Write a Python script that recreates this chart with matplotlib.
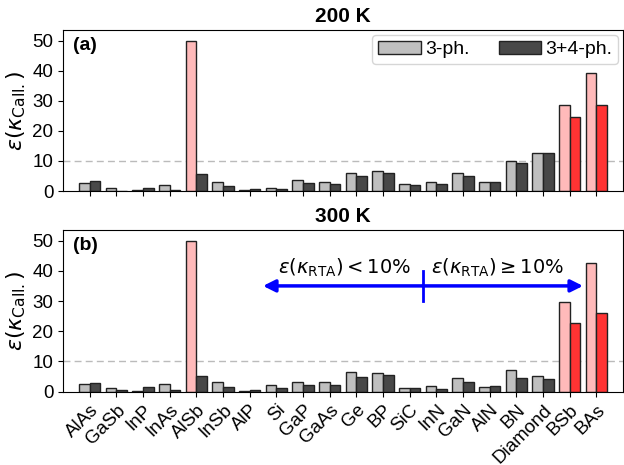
import numpy as np
import matplotlib
matplotlib.use("Agg")
import matplotlib.pyplot as plt
from matplotlib.patches import Patch

plt.rcParams['font.family'] = ['Liberation Sans', 'DejaVu Sans']
plt.rcParams['mathtext.fontset'] = 'dejavusans'

materials = ['AlAs', 'GaSb', 'InP', 'InAs', 'AlSb', 'InSb', 'AlP', 'Si', 'GaP', 'GaAs',
             'Ge', 'BP', 'SiC', 'InN', 'GaN', 'AlN', 'BN', 'Diamond', 'BSb', 'BAs']

# error of kappa_Call. (%) at 200 K
err3_200 = [2.6, 0.9, 0.3, 2.0, 49.9, 3.1, 0.2, 0.9, 3.5, 3.0,
            6.1, 6.5, 2.2, 3.0, 5.9, 3.1, 10.0, 12.8, 28.7, 39.1]
err34_200 = [3.3, 0.1, 1.0, 0.4, 5.6, 1.8, 0.8, 0.55, 2.5, 2.2,
             5.1, 6.0, 2.0, 2.3, 5.1, 3.1, 9.4, 12.6, 24.5, 28.7]

# error of kappa_Call. (%) at 300 K
err3_300 = [2.4, 1.1, 0.1, 2.5, 50.0, 3.15, 0.4, 2.2, 3.3, 3.3,
            6.6, 6.2, 1.3, 1.85, 4.7, 1.5, 7.2, 5.1, 29.6, 42.6]
err34_300 = [3.0, 0.5, 1.5, 0.5, 5.1, 1.4, 0.6, 1.3, 2.2, 2.1,
             5.0, 5.4, 1.2, 0.9, 3.3, 2.0, 4.6, 4.2, 22.6, 25.9]

# highlighted materials
pink_3ph = ['AlSb', 'BSb', 'BAs']
red_34ph = ['BSb', 'BAs']

c_light = '#bfbfbf'
c_dark = '#484848'
c_pink = '#ffbaba'
c_red = '#ff3333'
edge = '#222222'

x = np.arange(len(materials))
w = 0.4

fig = plt.figure(figsize=(6.24, 4.65), dpi=100)
ax1 = fig.add_axes([0.101, 0.5892, 0.8974, 0.3462])
ax2 = fig.add_axes([0.101, 0.1576, 0.8974, 0.3478])


def draw_panel(ax, e3, e34, title, tag):
    col3 = [c_pink if m in pink_3ph else c_light for m in materials]
    col34 = [c_red if m in red_34ph else c_dark for m in materials]
    ax.bar(x - w / 2, e3, w, color=col3, edgecolor=edge, linewidth=1, zorder=2)
    ax.bar(x + w / 2, e34, w, color=col34, edgecolor=edge, linewidth=1, zorder=2)
    ax.axhline(10, color='#bbbbbb', ls=(0, (5, 3)), lw=1, zorder=1)
    ax.set_xlim(-1, 20)
    ax.set_ylim(0, 53.5)
    ax.set_yticks([0, 10, 20, 30, 40, 50])
    ax.set_xticks(x)
    ax.tick_params(axis='y', labelsize=13.5)
    ax.tick_params(axis='x', labelsize=13.5)
    ax.set_ylabel(r'$\varepsilon(\kappa_{\rm Call.})$', fontsize=16, labelpad=3)
    ax.set_title(title, fontsize=15, fontweight='bold', pad=6)
    ax.text(0.018, 0.955, tag, transform=ax.transAxes, fontsize=14,
            fontweight='bold', va='top', ha='left')


draw_panel(ax1, err3_200, err34_200, '200 K', '(a)')
draw_panel(ax2, err3_300, err34_300, '300 K', '(b)')

ax1.set_xticklabels([])
ax2.set_xticklabels(materials, rotation=45, ha='right', rotation_mode='anchor')

handles = [Patch(facecolor=c_light, edgecolor=edge, label='3-ph.'),
           Patch(facecolor=c_dark, edgecolor=edge, label='3+4-ph.')]
ax1.legend(handles=handles, loc='upper right', ncol=2, fontsize=14,
           handletextpad=0.2, columnspacing=1.5, borderaxespad=0.25,
           handlelength=2.2, borderpad=0.3)

# kappa_RTA threshold annotation
split = 12.5
for end in (6.5, 18.5):
    ax2.annotate('', xy=(end, 35), xytext=(split, 35),
                 arrowprops=dict(arrowstyle='-|>', color='blue', lw=2.5,
                                 mutation_scale=18, shrinkA=0, shrinkB=0))
ax2.plot([split, split], [30, 40], color='blue', lw=2)
ax2.text(9.56, 37.4, r'$\varepsilon(\kappa_{\rm RTA}) < 10\%$', fontsize=14,
         ha='center', va='bottom')
ax2.text(15.3, 37.4, r'$\varepsilon(\kappa_{\rm RTA}) \geq 10\%$', fontsize=14,
         ha='center', va='bottom')

fig.savefig('out.png', dpi=100)
